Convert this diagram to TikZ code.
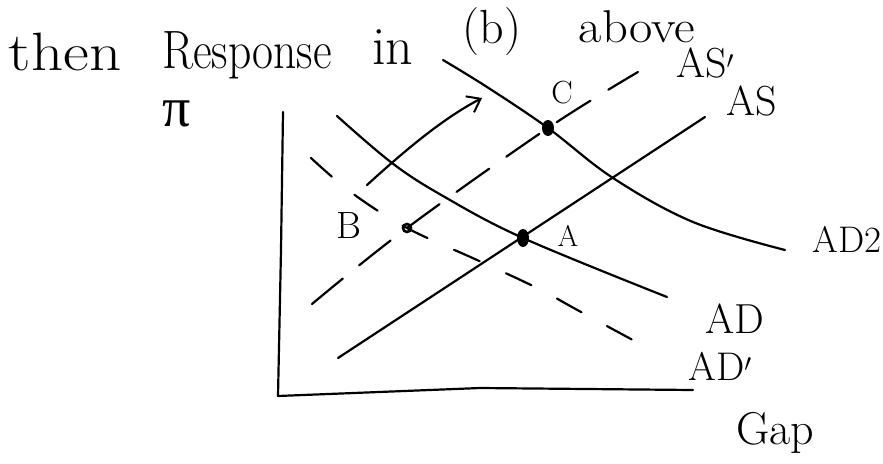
\documentclass[tikz,border=0pt]{standalone}
\usepackage{fontspec}
\newfontfamily\grk{Liberation Serif}
\usetikzlibrary{arrows.meta}
\newcommand{\fsz}[1]{\fontsize{#1}{#1}\selectfont}
\begin{document}
\begin{tikzpicture}[x=1pt,y=-1pt,
  curve/.style={line width=2.2pt, line cap=round, line join=round},
  dashA/.style={curve, dash pattern=on 40pt off 21pt},
  dashB/.style={curve, dash pattern=on 28pt off 29pt},
  hw/.style={inner sep=0pt},
  title/.style={hw, anchor=base, font=\fsz{54}},
  lab/.style={hw, font=\fsz{40}}]
\useasboundingbox (0,0) rectangle (883,463);
% title
\node[title, xscale=1.17] (t1) at (65,70) {then};
\node[title, xscale=0.845] (t2) at (247,68) {Response};
\node[title] (t3) at (393,64) {in};
\node[title, font=\fsz{48}] (t4) at (492,43) {(b)};
\node[title, xscale=1.1, font=\fsz{46}] (t5) at (637,42) {above};
% axes
\draw[curve] (283,112) -- (281,250) -- (278,396) -- (480,388) -- (693,390);
\node[hw, font=\fsz{56}\grk] (pi) at (177,114) {π};
% AS (solid) and AS' (dashed)
\draw[curve] (338,358) -- (705,117);
\draw[dashA] plot[smooth, tension=0.6] coordinates {(312,304) (407,228) (548,128) (638,72)};
% AD (solid), AD' (dashed), AD2 (solid)
\draw[curve] plot[smooth, tension=0.6] coordinates {(337,116) (392,163) (443,196) (523,238) (667,297)};
\draw[dashB] plot[smooth, tension=0.6] coordinates {(311,158) (352,193) (407,228) (477,260) (537,288) (581,312) (642,345)};
\draw[curve] plot[smooth, tension=0.6] coordinates {(443,60) (487,87) (548,128) (613,178) (693,222) (785,250)};
% arrow
\coordinate (arS) at (367,185);
\coordinate (arE) at (482,98);
\draw[curve, -{Straight Barb[length=12pt,width=18pt,line width=2pt]}] (arS) .. controls (400,155) and (440,120) .. (arE);
% points
\fill (548,128) ellipse [x radius=6pt, y radius=8pt];
\fill (523,238) ellipse [x radius=6pt, y radius=9pt];
\draw[line width=2.6pt] (407,228) circle [radius=4pt];
% labels
\node[lab, font=\fsz{38}] (lB) at (349,226) {B};
\node[lab, font=\fsz{30}] (lA) at (568,236) {A};
\node[lab, font=\fsz{32}] (lC) at (562,93) {C};
\node[lab, font=\fsz{42}] (lASp) at (705,63) {AS$'$};
\node[lab, font=\fsz{42}] (lAS) at (752,101) {AS};
\node[lab, font=\fsz{37}] (lAD2) at (847,239) {AD2};
\node[lab, font=\fsz{42}] (lAD) at (735,319) {AD};
\node[lab, font=\fsz{40}] (lADp) at (720,366) {AD$'$};
\node[lab, font=\fsz{46}, anchor=base] (lGap) at (775,444) {Gap};
\end{tikzpicture}
\end{document}
